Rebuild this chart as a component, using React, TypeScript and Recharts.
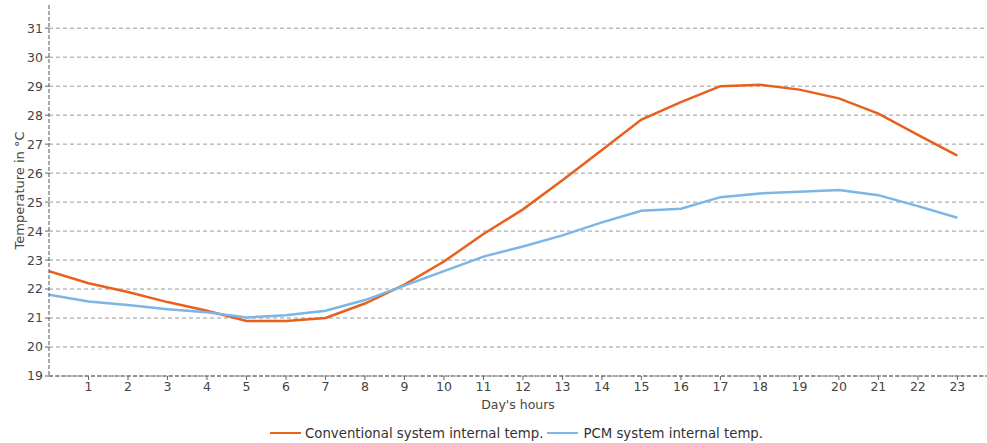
import React from "react";
import { LineChart, Line, XAxis, YAxis, CartesianGrid, Legend } from "recharts";

const hours = [0, 1, 2, 3, 4, 5, 6, 7, 8, 9, 10, 11, 12, 13, 14, 15, 16, 17, 18, 19, 20, 21, 22, 23];
const conventional = [22.62, 22.2, 21.9, 21.55, 21.25, 20.9, 20.9, 21.0, 21.5, 22.15, 22.95, 23.9, 24.75, 25.75, 26.8, 27.85, 28.45, 29.0, 29.05, 28.88, 28.58, 28.05, 27.32, 26.6];
const pcm = [21.8, 21.57, 21.45, 21.3, 21.2, 21.02, 21.1, 21.25, 21.62, 22.12, 22.62, 23.12, 23.47, 23.85, 24.3, 24.7, 24.77, 25.17, 25.3, 25.36, 25.42, 25.24, 24.86, 24.46];
const xTicks = [1, 2, 3, 4, 5, 6, 7, 8, 9, 10, 11, 12, 13, 14, 15, 16, 17, 18, 19, 20, 21, 22, 23];
const yTicks = [19, 20, 21, 22, 23, 24, 25, 26, 27, 28, 29, 30, 31];

const data = hours.map((h, i) => ({ hour: h, conv: conventional[i], pcm: pcm[i] }));

const FONT = "'DejaVu Sans', Verdana, sans-serif";
const ORANGE = "#E8601C";
const BLUE = "#7CB5E6";

const LegendContent = () => (
  <div style={{ display: "flex", justifyContent: "center", alignItems: "center", fontFamily: FONT, fontSize: 13.3, color: "#333", height: 20, paddingLeft: 46 }}>
    <span style={{ display: "inline-block", width: 31, height: 2.5, background: ORANGE, marginRight: 4 }} />
    <span style={{ marginRight: 4 }}>Conventional system internal temp.</span>
    <span style={{ display: "inline-block", width: 31, height: 2.5, background: BLUE, marginRight: 5 }} />
    <span>PCM system internal temp.</span>
  </div>
);

export default function App() {
  return (
    <div style={{ position: "absolute", left: 0, top: 0, background: "#fff" }}>
      <LineChart width={987} height={443} data={data} margin={{ top: 5, right: 0, bottom: 0, left: 0 }}>
        <CartesianGrid vertical={false} stroke="#999" strokeDasharray="4 3" syncWithTicks />
        <XAxis
          dataKey="hour"
          type="number"
          domain={[0, 23.75]}
          ticks={xTicks}
          allowDataOverflow
          height={47}
          tickSize={4}
          tickMargin={2}
          stroke="#666"
          axisLine={{ stroke: "#555", strokeDasharray: "4 2" }}
          tick={{ fill: "#444", fontSize: 12.5, fontFamily: FONT }}
          label={{ value: "Day's hours", position: "insideBottom", offset: 14, fill: "#444", fontSize: 12.5, fontFamily: FONT }}
        />
        <YAxis
          type="number"
          domain={[19, 31.8]}
          ticks={yTicks}
          allowDataOverflow
          width={49}
          tickSize={4}
          tickMargin={2}
          stroke="#666"
          axisLine={{ stroke: "#555", strokeDasharray: "4 2" }}
          tick={{ fill: "#444", fontSize: 12.5, fontFamily: FONT }}
          label={{ value: "Temperature in °C", angle: -90, position: "insideLeft", offset: 19, fill: "#444", fontSize: 13, fontFamily: FONT, style: { textAnchor: "middle" } }}
        />
        <Legend verticalAlign="bottom" height={20} content={<LegendContent />} />
        <Line type="linear" dataKey="conv" stroke={ORANGE} strokeWidth={2.5} dot={false} isAnimationActive={false} />
        <Line type="linear" dataKey="pcm" stroke={BLUE} strokeWidth={2.5} dot={false} isAnimationActive={false} />
      </LineChart>
    </div>
  );
}
